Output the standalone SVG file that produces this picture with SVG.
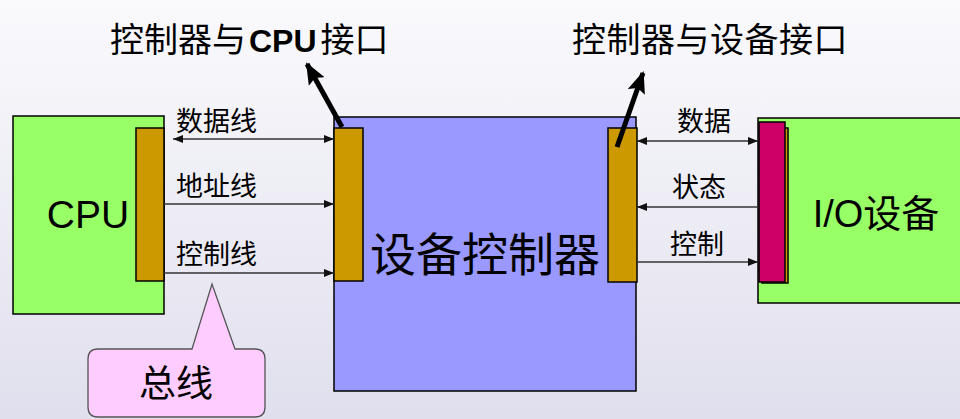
<svg xmlns="http://www.w3.org/2000/svg" width="960" height="419" viewBox="0 0 960 419">
<defs>
<linearGradient id="bg" x1="0" y1="0" x2="0" y2="1">
<stop offset="0" stop-color="#fafafd"/>
<stop offset="1" stop-color="#e0dfed"/>
</linearGradient>
<marker id="ah" viewBox="0 0 10 8" refX="10" refY="4" markerWidth="10" markerHeight="8" markerUnits="userSpaceOnUse" orient="auto-start-reverse">
<path d="M0,0 L10,4 L0,8 z" fill="#111"/>
</marker>
<marker id="big" viewBox="0 0 22 18" refX="20" refY="9" markerWidth="22" markerHeight="18" markerUnits="userSpaceOnUse" orient="auto">
<path d="M0,0 L22,9 L0,18 L4,9 z" fill="#000"/>
</marker>
</defs>
<style>
.box{stroke:#000;stroke-width:1.5}
.port{fill:#cc9900;stroke:#000;stroke-width:1.5}
.cjk{font-family:"Noto Sans CJK SC","Liberation Sans",sans-serif;fill:#000}
.lbl{font-size:27px}
.bus{stroke:#333;stroke-width:1.3;fill:none}
.thick{stroke:#000;stroke-width:5;fill:none}
</style>
<rect width="960" height="419" fill="url(#bg)"/>

<g id="cpu">
<rect class="box" x="13" y="116" width="151" height="198" fill="#99ff66"/>
<rect class="port" x="136" y="128" width="28" height="153"/>
<text x="88" y="228" text-anchor="middle" font-family="Liberation Sans, Arial, sans-serif" font-size="39">CPU</text>
</g>

<g id="controller">
<rect class="box" x="334" y="117" width="302" height="274" fill="#9999ff"/>
<rect class="port" x="334" y="128" width="29" height="153"/>
<rect class="port" x="608" y="128" width="29" height="154"/>
<text class="cjk" x="485" y="271" text-anchor="middle" font-size="46">设备控制器</text>
</g>

<g id="io">
<rect class="box" x="758" y="118" width="210" height="185" fill="#99ff66"/>
<rect class="port" x="762" y="128" width="26" height="155"/>
<rect x="759" y="122" width="26" height="160" fill="#cc0066" stroke="#000" stroke-width="1.5"/>
<text x="876" y="227" text-anchor="middle" font-size="38"><tspan font-family="Liberation Sans, Arial, sans-serif">I/O</tspan><tspan class="cjk">设备</tspan></text>
</g>

<g id="callout">
<path d="M98,349 L192,349 L212,284 L235,349 L255,349 Q265,349 265,359 L265,407 Q265,417 255,417 L98,417 Q88,417 88,407 L88,359 Q88,349 98,349 z" fill="#ffccff" stroke="#555" stroke-width="1.3"/>
<text class="cjk" x="176" y="397" text-anchor="middle" font-size="37">总线</text>
</g>

<g id="title-cpu-if">
<text x="110" y="52" font-size="34"><tspan class="cjk">控制器与</tspan><tspan dx="3" font-family="Liberation Sans, Arial, sans-serif" font-weight="bold" font-size="32">CPU</tspan><tspan dx="4" class="cjk">接口</tspan></text>
</g>
<g id="title-dev-if">
<text class="cjk" x="572" y="52" font-size="34" letter-spacing="0.5">控制器与设备接口</text>
</g>

<g id="connectors">
<line class="bus" x1="173" y1="139" x2="334" y2="139" marker-start="url(#ah)" marker-end="url(#ah)"/>
<line class="bus" x1="164" y1="204" x2="334" y2="204" marker-end="url(#ah)"/>
<line class="bus" x1="164" y1="273" x2="334" y2="273" marker-end="url(#ah)"/>
<line class="bus" x1="637" y1="141" x2="758" y2="141" marker-start="url(#ah)" marker-end="url(#ah)"/>
<line class="bus" x1="758" y1="207" x2="637" y2="207" marker-end="url(#ah)"/>
<line class="bus" x1="637" y1="262" x2="758" y2="262" marker-end="url(#ah)"/>
<line class="thick" x1="342" y1="127" x2="307" y2="64" marker-end="url(#big)"/>
<line class="thick" x1="617" y1="147" x2="643" y2="73" marker-end="url(#big)"/>
</g>

<g id="labels">
<text class="cjk lbl" x="176" y="131">数据线</text>
<text class="cjk lbl" x="176" y="196">地址线</text>
<text class="cjk lbl" x="176" y="264">控制线</text>
<text class="cjk lbl" x="677" y="131">数据</text>
<text class="cjk lbl" x="672" y="197">状态</text>
<text class="cjk lbl" x="670" y="254">控制</text>
</g>
</svg>
